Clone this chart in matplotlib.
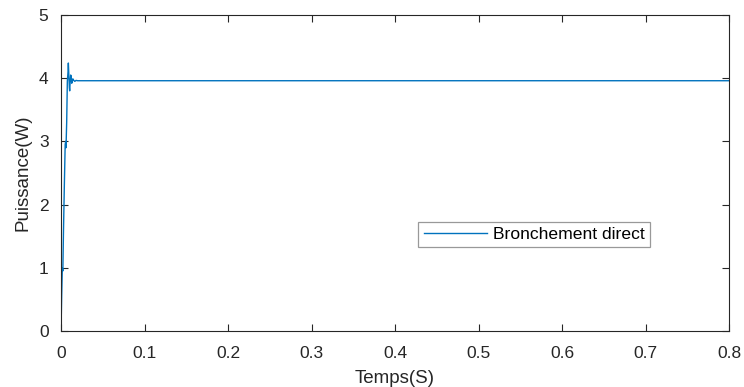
import matplotlib
matplotlib.use("Agg")
import matplotlib.pyplot as plt

plt.rcParams['font.family'] = ['Liberation Sans', 'DejaVu Sans']

# temps (s) et puissance (W)
temps = [0.0, 0.0008, 0.0016, 0.0022, 0.0030, 0.0040, 0.0050, 0.0056, 0.0060,
         0.0068, 0.0076, 0.0084, 0.0088, 0.0094, 0.0100, 0.0104, 0.0110,
         0.0116, 0.0122, 0.0128, 0.0134, 0.0142, 0.0150, 0.0165, 0.0180,
         0.0200, 0.05, 0.2, 0.4, 0.6, 0.8]
puissance = [0.0, 0.55, 1.0, 0.95, 1.6, 2.3, 2.95, 3.0, 2.9, 3.3, 3.95, 4.1,
             4.24, 4.05, 3.85, 3.80, 3.95, 4.05, 4.03, 3.92, 3.94, 3.99, 3.97,
             3.95, 3.965, 3.96, 3.96, 3.96, 3.96, 3.96, 3.96]
serie = "Bronchement direct"

xticks = [0, 0.1, 0.2, 0.3, 0.4, 0.5, 0.6, 0.7, 0.8]
yticks = [0, 1, 2, 3, 4, 5]

fig = plt.figure(figsize=(7.44, 3.87), dpi=100)
ax = fig.add_axes([61 / 744, 1 - 331 / 387, 668 / 744, 316 / 387])

ax.plot(temps, puissance, color='#0072BD', lw=1.0, label=serie)

ax.set_xlim(0, 0.8)
ax.set_ylim(0, 5)
ax.set_xticks(xticks)
ax.set_xticklabels([f"{v:g}" for v in xticks])
ax.set_yticks(yticks)
ax.tick_params(direction='in', top=True, right=True, labelsize=12.5,
               colors='#262626', length=5, width=0.8)
ax.tick_params(axis='x', pad=11)
ax.tick_params(axis='y', pad=9)
for s in ax.spines.values():
    s.set_color('#262626')
    s.set_linewidth(0.8)

ax.set_xlabel("Temps(S)", fontsize=13.5, color='#262626', labelpad=6)
ax.set_ylabel("Puissance(W)", fontsize=13.5, color='#262626', labelpad=5)

leg = ax.legend(loc='center left', bbox_to_anchor=(0.535, 0.305),
                fontsize=12.6, frameon=True, fancybox=False,
                handlelength=3.6, borderpad=0.3, borderaxespad=0,
                handletextpad=0.35)
leg.get_frame().set_edgecolor('#808080')
leg.get_frame().set_linewidth(0.9)

fig.savefig("out.png", dpi=100)
